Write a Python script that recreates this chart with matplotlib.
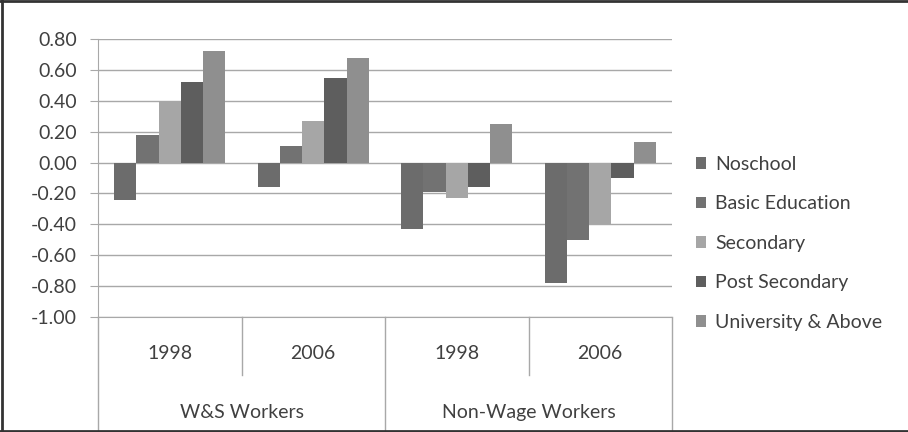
import numpy as np
import matplotlib
matplotlib.use("Agg")
import matplotlib.pyplot as plt
from matplotlib.lines import Line2D

plt.rcParams['font.family'] = ['Lato', 'DejaVu Sans']

# categories (year within worker group)
years = ["1998", "2006", "1998", "2006"]
groups = ["W&S Workers", "Non-Wage Workers"]

# series values
series_names = ["Noschool", "Basic Education", "Secondary", "Post Secondary", "University & Above"]
noschool = [-0.24, -0.16, -0.43, -0.78]
basic_edu = [0.18, 0.11, -0.19, -0.50]
secondary = [0.40, 0.27, -0.23, -0.40]
post_secondary = [0.52, 0.55, -0.16, -0.10]
university = [0.72, 0.68, 0.25, 0.13]

colors = ["#6c6c6c", "#727272", "#a6a6a6", "#5e5e5e", "#8f8f8f"]
text_color = "#404040"
grid_color = "#a8a8a8"

fig = plt.figure(figsize=(9.08, 4.32), dpi=100)
ax = fig.add_axes([98 / 908, 1 - 317 / 432, (672 - 98) / 908, (317 - 39) / 432])

all_series = [noschool, basic_edu, secondary, post_secondary, university]
x = np.arange(len(years)) + 0.5
width = 0.155
for i, (vals, name) in enumerate(zip(all_series, series_names)):
    offset = (i - 2) * width
    ax.bar(x + offset, vals, width, color=colors[i], label=name, zorder=3)

yticks = np.round(np.arange(-1.0, 0.81, 0.2), 2)
ax.set_xlim(0, len(years))
ax.set_ylim(-1.0, 0.8)
ax.set_yticks(yticks)
ax.set_yticklabels([f"{v:.2f}" if v != 0 else "0.00" for v in yticks])
ax.yaxis.grid(True, color=grid_color, linewidth=1.0, zorder=0)
ax.set_xticks([])
ax.tick_params(axis='y', length=6, color=grid_color, labelsize=14,
               labelcolor=text_color, pad=9)
for side in ["top", "right"]:
    ax.spines[side].set_visible(False)
ax.spines["left"].set_color(grid_color)
ax.spines["bottom"].set_color(grid_color)

# category axis: years and groups
trans = ax.get_xaxis_transform()
for xi, yr in zip(x, years):
    ax.text(xi, -0.13, yr, transform=trans, ha='center', va='center',
            fontsize=14, color=text_color)
for gi, g in enumerate(groups):
    ax.text(2 * gi + 1, -0.345, g, transform=trans, ha='center', va='center',
            fontsize=14, color=text_color)
for xb in [1, 3]:
    ax.add_line(Line2D([xb, xb], [0, -0.209], transform=trans, color=grid_color,
                       linewidth=1.0, clip_on=False))
for xb in [0, 2, 4]:
    ax.add_line(Line2D([xb, xb], [0, -0.41], transform=trans, color=grid_color,
                       linewidth=1.0, clip_on=False))

leg = fig.legend(loc='upper left', bbox_to_anchor=(688 / 908, 1 - 148 / 432),
                 frameon=False, fontsize=14, handlelength=0.55, handleheight=0.55,
                 handletextpad=0.45, labelspacing=1.16, labelcolor=text_color,
                 borderaxespad=0)

# outer frame of the picture
frame_kw = dict(color="#333333", linewidth=2.0, transform=fig.transFigure)
fig.add_artist(Line2D([0.002, 0.002], [0, 1], **frame_kw))
fig.add_artist(Line2D([0, 1], [0.998, 0.998], **frame_kw))
fig.add_artist(Line2D([0, 1], [0.002, 0.002], **frame_kw))

fig.savefig("out.png", dpi=100)
